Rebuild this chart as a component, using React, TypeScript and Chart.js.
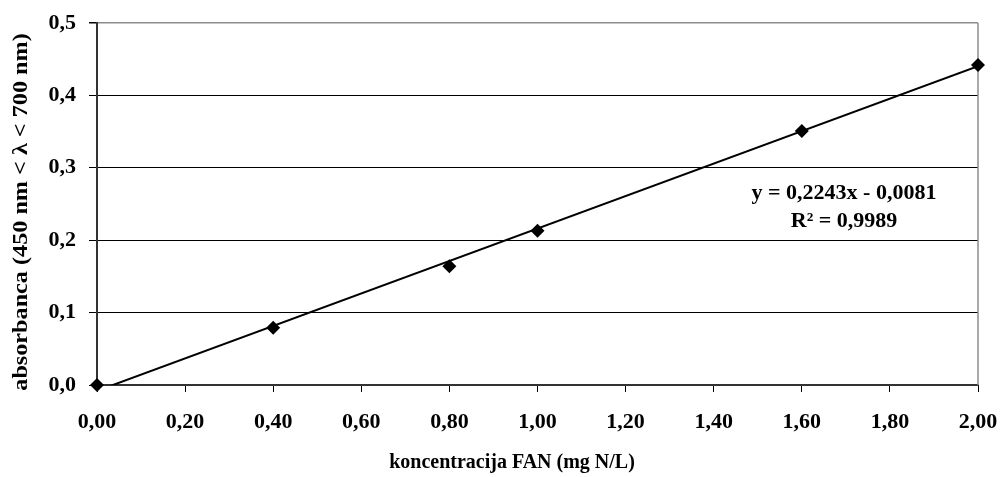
import React, { useEffect, useRef } from "react";
import { Chart, registerables } from "chart.js";

Chart.register(...registerables);

const concentrations = [0, 0.4, 0.8, 1.0, 1.6, 2.0];
const absorbances = [0, 0.079, 0.164, 0.213, 0.351, 0.442];
const trendX = [0, 2.0];
const trendY = [-0.0081, 0.4405];
const equationLines = ["y = 0,2243x - 0,0081", "R\u00B2 = 0,9989"];
const xTitle = "koncentracija FAN (mg N/L)";
const yTitle = "absorbanca (450 nm < \u03BB < 700 nm)";

const FONT = "'Liberation Serif', 'Times New Roman', serif";

export default function App() {
  const ref = useRef<HTMLCanvasElement | null>(null);
  useEffect(() => {
    if (!ref.current) return;
    const textPlugin = {
      id: "extras",
      beforeDatasetsDraw(chart: any) {
        const { ctx, chartArea } = chart;
        ctx.save();
        ctx.strokeStyle = "#8c8c8c";
        ctx.lineWidth = 1.5;
        ctx.beginPath();
        ctx.moveTo(chartArea.right, chartArea.top);
        ctx.lineTo(chartArea.right, chartArea.bottom);
        ctx.stroke();
        ctx.restore();
      },
      afterDraw(chart: any) {
        const { ctx } = chart;
        ctx.save();
        ctx.fillStyle = "#000";
        ctx.textAlign = "center";
        ctx.textBaseline = "middle";
        // equation
        ctx.font = `bold 22px ${FONT}`;
        ctx.fillText(equationLines[0], 844, 193);
        ctx.fillText(equationLines[1], 844, 221);
        // x title
        ctx.font = `bold 20px ${FONT}`;
        ctx.fillText(xTitle, 512, 463);
        // y title
        ctx.font = `bold 22px ${FONT}`;
        ctx.translate(21, 212);
        ctx.rotate(-Math.PI / 2);
        ctx.scale(1.1, 1);
        ctx.fillText(yTitle, 0, 0);
        ctx.restore();
      },
    };
    const chart = new Chart(ref.current, {
      type: "scatter",
      data: {
        datasets: [
          {
            type: "line",
            data: trendX.map((x, i) => ({ x, y: trendY[i] })),
            borderColor: "#000",
            borderWidth: 2,
            pointRadius: 0,
            fill: false,
            order: 2,
          } as any,
          {
            data: concentrations.map((x, i) => ({ x, y: absorbances[i] })),
            pointStyle: "rectRot",
            pointRadius: 7,
            backgroundColor: "#000",
            borderColor: "#000",
            borderWidth: 0,
            clip: false,
            order: 1,
          },
        ],
      },
      options: {
        animation: false,
        responsive: false,
        layout: { padding: { top: 23, right: 25, left: 0, bottom: 0 } },
        plugins: { legend: { display: false }, tooltip: { enabled: false } },
        scales: {
          x: {
            type: "linear",
            min: 0,
            max: 2,
            afterFit(scale: any) {
              scale.height = 92;
              scale.paddingLeft = 0;
              scale.paddingRight = 0;
            },
            ticks: {
              stepSize: 0.2,
              color: "#000",
              padding: 17,
              font: { family: FONT, size: 22, weight: "bold" },
              callback: (v: any) => Number(v).toFixed(2).replace(".", ","),
            },
            grid: {
              drawOnChartArea: false,
              drawTicks: true,
              tickLength: 7,
              color: "#000",
            },
            border: { color: "#333", width: 2 },
            title: { display: false },
          },
          y: {
            type: "linear",
            min: 0,
            max: 0.5,
            afterFit(scale: any) {
              scale.width = 97;
              scale.paddingTop = 0;
              scale.paddingBottom = 0;
            },
            ticks: {
              stepSize: 0.1,
              color: "#000",
              padding: 13,
              font: { family: FONT, size: 22, weight: "bold" },
              callback: (v: any) => Number(v).toFixed(1).replace(".", ","),
            },
            grid: {
              color: (c: any) => (c.tick && Math.abs(c.tick.value - 0.5) < 1e-9 ? "#8c8c8c" : "#000"),
              lineWidth: (c: any) => (c.tick && Math.abs(c.tick.value - 0.5) < 1e-9 ? 1.5 : 1),
              tickLength: 8,
              tickColor: "#000",
            },
            border: { color: "#333", width: 2 },
            title: { display: false },
          },
        },
      },
      plugins: [textPlugin],
    } as any);
    return () => chart.destroy();
  }, []);
  return (
    <div style={{ position: "fixed", left: 0, top: 0, width: 1003, height: 477, background: "#fff" }}>
      <canvas ref={ref} width={1003} height={477} style={{ width: 1003, height: 477 }} />
    </div>
  );
}
